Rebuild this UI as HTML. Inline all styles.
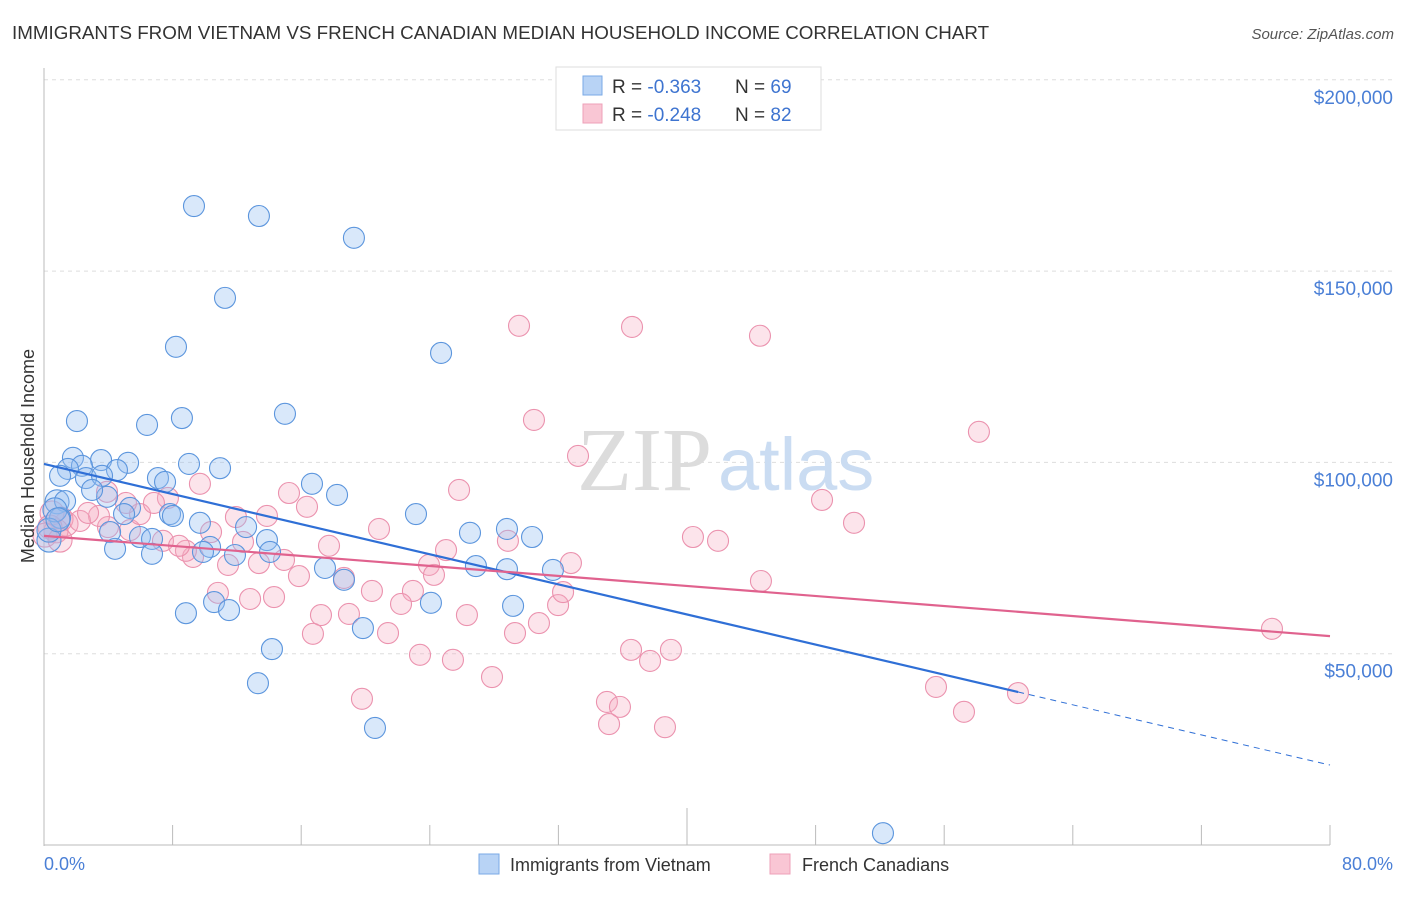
<!DOCTYPE html>
<html><head><meta charset="utf-8"><style>
body{margin:0;background:#fff;font-family:"Liberation Sans",sans-serif}
</style></head><body>
<svg width="1406" height="892" xmlns="http://www.w3.org/2000/svg" font-family="Liberation Sans, sans-serif">
<text x="12" y="39" font-size="18.8" fill="#333">IMMIGRANTS FROM VIETNAM VS FRENCH CANADIAN MEDIAN HOUSEHOLD INCOME CORRELATION CHART</text>
<text x="1394" y="39" font-size="15" fill="#555" text-anchor="end" font-style="italic">Source: ZipAtlas.com</text>
<g id="grid"></g>
<text x="712" y="490" font-size="90" fill="#dcdcdc" text-anchor="end" font-family="Liberation Serif, serif">ZIP</text>
<text x="718" y="490" font-size="74" fill="#cadcf2">atlas</text>
<line x1="44" y1="68" x2="44" y2="846" stroke="#bbb"/>
<line x1="44" y1="845" x2="1330" y2="845" stroke="#bbb"/>
<g id="ticks"></g>
<g id="pts"></g>
<g id="trends"></g>
<text transform="translate(34,456) rotate(-90)" font-size="18" fill="#333" text-anchor="middle">Median Household Income</text>
<text x="44" y="870" font-size="18" fill="#4a7fd6">0.0%</text>
<text x="1393" y="870" font-size="18" fill="#4a7fd6" text-anchor="end">80.0%</text>
<g>
<rect x="556" y="67" width="265" height="63" fill="#fff" stroke="#ddd"/>
<rect x="583" y="76" width="19" height="19" fill="#b8d3f5" stroke="#7aa9e6"/>
<rect x="583" y="104" width="19" height="19" fill="#f9c6d4" stroke="#eea0b8"/>
<text x="612" y="93" font-size="19" fill="#333">R = <tspan fill="#3e74d0">-0.363</tspan></text>
<text x="735" y="93" font-size="19" fill="#333">N = <tspan fill="#3e74d0">69</tspan></text>
<text x="612" y="121" font-size="19" fill="#333">R = <tspan fill="#3e74d0">-0.248</tspan></text>
<text x="735" y="121" font-size="19" fill="#333">N = <tspan fill="#3e74d0">82</tspan></text>
</g>
<g>
<rect x="479" y="854" width="20" height="20" fill="#b8d3f5" stroke="#7aa9e6"/>
<text x="510" y="871" font-size="18" fill="#333">Immigrants from Vietnam</text>
<rect x="770" y="854" width="20" height="20" fill="#f9c6d4" stroke="#eea0b8"/>
<text x="802" y="871" font-size="18" fill="#333">French Canadians</text>
</g>
</svg>
<script>
const yTicks=[50000,100000,150000,200000];
const yTickLabels=["$50,000","$100,000","$150,000","$200,000"];
const xTicks=[8,16,24,32,40,48,56,64,72,80];
const blueX=[9.33,13.37,19.28,11.26,8.21,24.70,8.58,14.99,2.05,6.41,1.80,3.55,2.36,1.49,5.23,9.02,10.95,1.0,4.54,2.61,3.61,7.09,7.53,16.67,18.23,3.92,2.99,0.81,1.31,5.35,4.98,23.14,7.84,8.02,9.70,12.57,26.50,28.80,30.36,5.97,4.11,6.72,13.87,1.0,0.31,4.42,10.33,9.89,11.88,14.06,6.72,17.48,18.66,26.87,28.80,31.66,24.07,29.18,8.83,10.58,11.51,19.84,14.18,13.31,20.59,52.19,0.68,0.31,0.87];
const blueY=[167.0,164.4,158.7,143.0,130.2,128.6,111.6,112.7,110.8,109.8,101.2,100.6,99.1,98.3,99.9,99.6,98.5,96.5,98.0,95.9,96.5,95.9,94.9,94.4,91.5,91.0,92.8,89.7,89.9,88.1,86.5,86.5,86.5,86.0,84.2,83.1,81.6,82.6,80.5,80.5,81.8,80.0,79.7,85.5,79.7,77.4,77.9,76.6,75.8,76.6,76.1,72.4,69.3,72.9,72.1,71.9,63.3,62.5,60.6,63.5,61.4,56.7,51.2,42.3,30.6,3.1,87.6,82.3,85.0];
const pinkX=[29.55,36.58,44.54,30.48,33.22,58.16,25.82,15.24,16.36,9.70,7.71,48.40,50.39,13.87,11.94,20.84,40.37,41.93,28.86,25.01,32.78,23.95,24.26,44.60,22.95,20.40,18.66,14.93,13.37,15.86,17.73,9.27,8.83,10.39,12.38,7.40,8.40,5.35,3.98,3.42,1.37,1.06,0.75,0.50,2.24,2.74,5.97,3.92,6.84,5.10,11.45,10.82,12.82,14.31,22.21,26.31,17.23,18.97,30.79,31.98,32.29,29.30,21.40,16.73,23.39,25.44,27.87,36.52,39.00,37.70,35.02,35.83,35.15,38.63,19.78,55.49,57.23,60.59,76.39,0.37,0.06,1.0];
const pinkY=[135.7,135.4,133.1,111.1,101.7,108.0,92.8,92.0,88.4,94.4,90.7,90.2,84.2,86.0,85.7,82.6,80.5,79.5,79.5,77.1,73.7,73.2,70.6,69.0,66.4,66.4,69.8,74.5,73.7,70.3,78.2,75.3,76.9,81.8,79.2,79.5,78.2,82.3,83.1,86.0,83.9,85.2,82.1,86.8,84.7,86.8,86.5,92.3,89.4,89.4,73.2,65.9,64.3,64.8,63.0,60.1,60.1,60.4,58.0,62.7,66.1,55.4,55.4,55.2,49.7,48.4,43.9,51.0,51.0,48.1,37.4,36.1,31.6,30.8,38.2,41.3,34.8,39.7,56.5,83.1,81.0,79.7];
const blueTrend=[99.6,20.9];
const pinkTrend=[80.8,54.6];
const sx=v=>44+v/80*1286;
const sy=v=>845-v/50000*191.3;
const syk=v=>sy(v*1000);
const NS="http://www.w3.org/2000/svg";
function mk(t,a,p){const e=document.createElementNS(NS,t);for(const k in a)e.setAttribute(k,a[k]);p.appendChild(e);return e;}
const grid=document.getElementById('grid');
yTicks.forEach((v,i)=>{
 const l=mk('line',{x1:44,x2:1395,y1:sy(v),y2:sy(v),stroke:'#ddd','stroke-dasharray':'4,4'},grid);
 
 
 const t=mk('text',{x:1393,y:sy(v)+24,'font-size':19,fill:'#4a7fd6','text-anchor':'end'},grid);
 t.textContent=yTickLabels[i];
 
 
});
const ticks=document.getElementById('ticks');
xTicks.forEach(v=>{
 const l=mk('line',{x1:sx(v),x2:sx(v),y1:v==40?808:825,y2:845,stroke:'#bbb'},ticks);
 
 
});
const pts=document.getElementById('pts');
pinkX.forEach((x,i)=>{
 const c=mk('circle',{cx:sx(x),cy:syk(pinkY[i]),r:x<1.5?12:10.5,fill:'rgba(245,170,192,0.32)',stroke:'#eb92ae','stroke-width':1.1},pts);
 
 
});
blueX.forEach((x,i)=>{
 const c=mk('circle',{cx:sx(x),cy:syk(blueY[i]),r:x<1.0?12:10.5,fill:'rgba(150,190,240,0.36)',stroke:'#5b95dd','stroke-width':1.1},pts);
 
 
});
const tr=document.getElementById('trends');
const bAt=x=>blueTrend[0]+(blueTrend[1]-blueTrend[0])*x/80;
let l=mk('line',{x1:sx(0),y1:syk(bAt(0)),x2:sx(60.6),y2:syk(bAt(60.6)),stroke:'#2f6fd6','stroke-width':2.2},tr);


l=mk('line',{x1:sx(60.6),y1:syk(bAt(60.6)),x2:sx(80),y2:syk(bAt(80)),stroke:'#2f6fd6','stroke-width':1,'stroke-dasharray':'6,5'},tr);


l=mk('line',{x1:sx(0),y1:syk(pinkTrend[0]),x2:sx(80),y2:syk(pinkTrend[1]),stroke:'#e0628e','stroke-width':2.2},tr);


</script>
</body></html>
